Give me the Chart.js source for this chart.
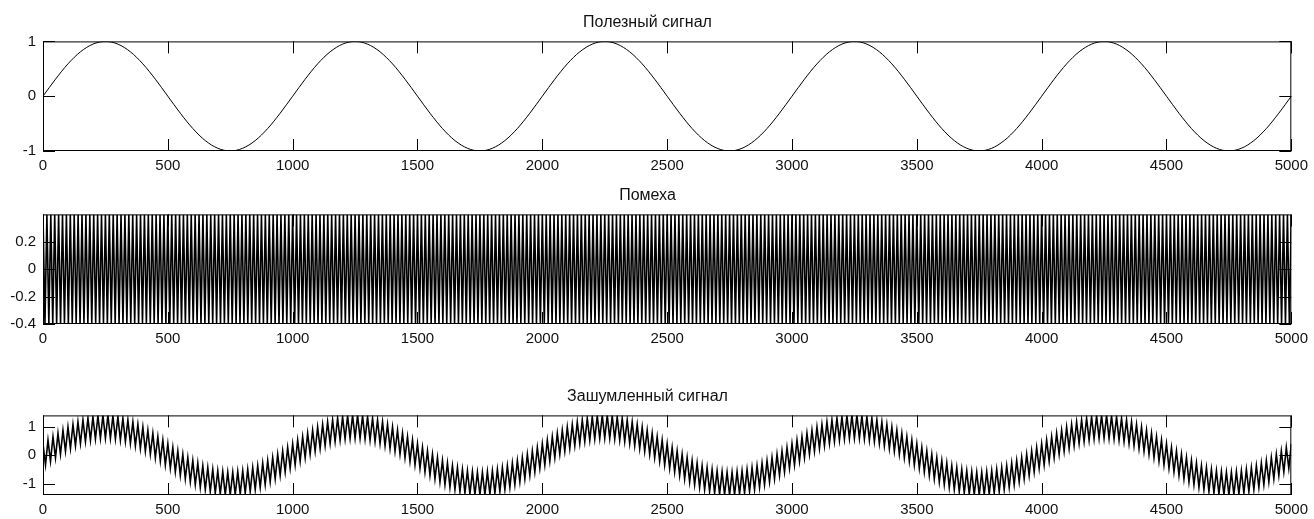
<!DOCTYPE html>
<html>
<head>
<meta charset="utf-8">
<script src="https://cdn.jsdelivr.net/npm/chart.js@4.4.1/dist/chart.umd.min.js"></script>
<style>
  body { margin: 0; background: #fff; width: 1314px; height: 519px; overflow: hidden; position: relative; }
  canvas { position: absolute; left: 0; }
</style>
</head>
<body>
<canvas id="c1" width="1314" height="175" style="top:0px"></canvas>
<canvas id="c2" width="1314" height="175" style="top:173px"></canvas>
<canvas id="c3" width="1314" height="145" style="top:374px"></canvas>
<script>
// Три графика: полезный сигнал, помеха, зашумленный сигнал

const titles = ["Полезный сигнал", "Помеха", "Зашумленный сигнал"];
const xTicks = [0, 500, 1000, 1500, 2000, 2500, 3000, 3500, 4000, 4500, 5000];
const yTicksSignal = [-1, 0, 1];
const yTicksNoise = [-0.4, -0.2, 0, 0.2];
const yTicksNoisy = [-1, 0, 1];

// полезный сигнал, шаг 50 отсчётов
const signalStep = 50;
const signal = [
  0, 0.31, 0.59, 0.81, 0.95, 1, 0.95, 0.81, 0.59, 0.31, 0, -0.31, -0.59, -0.81, -0.95, -1, -0.95, -0.81, -0.59, -0.31,
  0, 0.31, 0.59, 0.81, 0.95, 1, 0.95, 0.81, 0.59, 0.31, 0, -0.31, -0.59, -0.81, -0.95, -1, -0.95, -0.81, -0.59, -0.31,
  0, 0.31, 0.59, 0.81, 0.95, 1, 0.95, 0.81, 0.59, 0.31, 0, -0.31, -0.59, -0.81, -0.95, -1, -0.95, -0.81, -0.59, -0.31,
  0, 0.31, 0.59, 0.81, 0.95, 1, 0.95, 0.81, 0.59, 0.31, 0, -0.31, -0.59, -0.81, -0.95, -1, -0.95, -0.81, -0.59, -0.31,
  0, 0.31, 0.59, 0.81, 0.95, 1, 0.95, 0.81, 0.59, 0.31, 0, -0.31, -0.59, -0.81, -0.95, -1, -0.95, -0.81, -0.59, -0.31,
  0
];

// помеха, пики через 7.8125 отсчёта
const noiseStep = 7.8125;
const noise = [
  0.4, -0.4, 0.4, -0.4, 0.4, -0.4, 0.4, -0.4, 0.4, -0.4, 0.4, -0.4, 0.4, -0.4, 0.4, -0.4, 0.4, -0.4, 0.4, -0.4,
  0.4, -0.4, 0.4, -0.4, 0.4, -0.4, 0.4, -0.4, 0.4, -0.4, 0.4, -0.4, 0.4, -0.4, 0.4, -0.4, 0.4, -0.4, 0.4, -0.4,
  0.4, -0.4, 0.4, -0.4, 0.4, -0.4, 0.4, -0.4, 0.4, -0.4, 0.4, -0.4, 0.4, -0.4, 0.4, -0.4, 0.4, -0.4, 0.4, -0.4,
  0.4, -0.4, 0.4, -0.4, 0.4, -0.4, 0.4, -0.4, 0.4, -0.4, 0.4, -0.4, 0.4, -0.4, 0.4, -0.4, 0.4, -0.4, 0.4, -0.4,
  0.4, -0.4, 0.4, -0.4, 0.4, -0.4, 0.4, -0.4, 0.4, -0.4, 0.4, -0.4, 0.4, -0.4, 0.4, -0.4, 0.4, -0.4, 0.4, -0.4,
  0.4, -0.4, 0.4, -0.4, 0.4, -0.4, 0.4, -0.4, 0.4, -0.4, 0.4, -0.4, 0.4, -0.4, 0.4, -0.4, 0.4, -0.4, 0.4, -0.4,
  0.4, -0.4, 0.4, -0.4, 0.4, -0.4, 0.4, -0.4, 0.4, -0.4, 0.4, -0.4, 0.4, -0.4, 0.4, -0.4, 0.4, -0.4, 0.4, -0.4,
  0.4, -0.4, 0.4, -0.4, 0.4, -0.4, 0.4, -0.4, 0.4, -0.4, 0.4, -0.4, 0.4, -0.4, 0.4, -0.4, 0.4, -0.4, 0.4, -0.4,
  0.4, -0.4, 0.4, -0.4, 0.4, -0.4, 0.4, -0.4, 0.4, -0.4, 0.4, -0.4, 0.4, -0.4, 0.4, -0.4, 0.4, -0.4, 0.4, -0.4,
  0.4, -0.4, 0.4, -0.4, 0.4, -0.4, 0.4, -0.4, 0.4, -0.4, 0.4, -0.4, 0.4, -0.4, 0.4, -0.4, 0.4, -0.4, 0.4, -0.4,
  0.4, -0.4, 0.4, -0.4, 0.4, -0.4, 0.4, -0.4, 0.4, -0.4, 0.4, -0.4, 0.4, -0.4, 0.4, -0.4, 0.4, -0.4, 0.4, -0.4,
  0.4, -0.4, 0.4, -0.4, 0.4, -0.4, 0.4, -0.4, 0.4, -0.4, 0.4, -0.4, 0.4, -0.4, 0.4, -0.4, 0.4, -0.4, 0.4, -0.4,
  0.4, -0.4, 0.4, -0.4, 0.4, -0.4, 0.4, -0.4, 0.4, -0.4, 0.4, -0.4, 0.4, -0.4, 0.4, -0.4, 0.4, -0.4, 0.4, -0.4,
  0.4, -0.4, 0.4, -0.4, 0.4, -0.4, 0.4, -0.4, 0.4, -0.4, 0.4, -0.4, 0.4, -0.4, 0.4, -0.4, 0.4, -0.4, 0.4, -0.4,
  0.4, -0.4, 0.4, -0.4, 0.4, -0.4, 0.4, -0.4, 0.4, -0.4, 0.4, -0.4, 0.4, -0.4, 0.4, -0.4, 0.4, -0.4, 0.4, -0.4,
  0.4, -0.4, 0.4, -0.4, 0.4, -0.4, 0.4, -0.4, 0.4, -0.4, 0.4, -0.4, 0.4, -0.4, 0.4, -0.4, 0.4, -0.4, 0.4, -0.4,
  0.4, -0.4, 0.4, -0.4, 0.4, -0.4, 0.4, -0.4, 0.4, -0.4, 0.4, -0.4, 0.4, -0.4, 0.4, -0.4, 0.4, -0.4, 0.4, -0.4,
  0.4, -0.4, 0.4, -0.4, 0.4, -0.4, 0.4, -0.4, 0.4, -0.4, 0.4, -0.4, 0.4, -0.4, 0.4, -0.4, 0.4, -0.4, 0.4, -0.4,
  0.4, -0.4, 0.4, -0.4, 0.4, -0.4, 0.4, -0.4, 0.4, -0.4, 0.4, -0.4, 0.4, -0.4, 0.4, -0.4, 0.4, -0.4, 0.4, -0.4,
  0.4, -0.4, 0.4, -0.4, 0.4, -0.4, 0.4, -0.4, 0.4, -0.4, 0.4, -0.4, 0.4, -0.4, 0.4, -0.4, 0.4, -0.4, 0.4, -0.4,
  0.4, -0.4, 0.4, -0.4, 0.4, -0.4, 0.4, -0.4, 0.4, -0.4, 0.4, -0.4, 0.4, -0.4, 0.4, -0.4, 0.4, -0.4, 0.4, -0.4,
  0.4, -0.4, 0.4, -0.4, 0.4, -0.4, 0.4, -0.4, 0.4, -0.4, 0.4, -0.4, 0.4, -0.4, 0.4, -0.4, 0.4, -0.4, 0.4, -0.4,
  0.4, -0.4, 0.4, -0.4, 0.4, -0.4, 0.4, -0.4, 0.4, -0.4, 0.4, -0.4, 0.4, -0.4, 0.4, -0.4, 0.4, -0.4, 0.4, -0.4,
  0.4, -0.4, 0.4, -0.4, 0.4, -0.4, 0.4, -0.4, 0.4, -0.4, 0.4, -0.4, 0.4, -0.4, 0.4, -0.4, 0.4, -0.4, 0.4, -0.4,
  0.4, -0.4, 0.4, -0.4, 0.4, -0.4, 0.4, -0.4, 0.4, -0.4, 0.4, -0.4, 0.4, -0.4, 0.4, -0.4, 0.4, -0.4, 0.4, -0.4,
  0.4, -0.4, 0.4, -0.4, 0.4, -0.4, 0.4, -0.4, 0.4, -0.4, 0.4, -0.4, 0.4, -0.4, 0.4, -0.4, 0.4, -0.4, 0.4, -0.4,
  0.4, -0.4, 0.4, -0.4, 0.4, -0.4, 0.4, -0.4, 0.4, -0.4, 0.4, -0.4, 0.4, -0.4, 0.4, -0.4, 0.4, -0.4, 0.4, -0.4,
  0.4, -0.4, 0.4, -0.4, 0.4, -0.4, 0.4, -0.4, 0.4, -0.4, 0.4, -0.4, 0.4, -0.4, 0.4, -0.4, 0.4, -0.4, 0.4, -0.4,
  0.4, -0.4, 0.4, -0.4, 0.4, -0.4, 0.4, -0.4, 0.4, -0.4, 0.4, -0.4, 0.4, -0.4, 0.4, -0.4, 0.4, -0.4, 0.4, -0.4,
  0.4, -0.4, 0.4, -0.4, 0.4, -0.4, 0.4, -0.4, 0.4, -0.4, 0.4, -0.4, 0.4, -0.4, 0.4, -0.4, 0.4, -0.4, 0.4, -0.4,
  0.4, -0.4, 0.4, -0.4, 0.4, -0.4, 0.4, -0.4, 0.4, -0.4, 0.4, -0.4, 0.4, -0.4, 0.4, -0.4, 0.4, -0.4, 0.4, -0.4,
  0.4, -0.4, 0.4, -0.4, 0.4, -0.4, 0.4, -0.4, 0.4, -0.4, 0.4, -0.4, 0.4, -0.4, 0.4, -0.4, 0.4, -0.4, 0.4, -0.4,
  0.4
];

// зашумленный сигнал, отсчёты через 10
const noisyStep = 10;
const noisy = [
  0.4, -0.34, 0.53, -0.21, 0.65, -0.09, 0.77, 0.03, 0.88, 0.14, 0.99, 0.24, 1.08, 0.33, 1.17, 0.41, 1.24, 0.48, 1.3, 0.53, 1.35, 0.57, 1.38, 0.59, 1.4,
  0.6, 1.4, 0.59, 1.38, 0.57, 1.35, 0.53, 1.3, 0.48, 1.24, 0.41, 1.17, 0.33, 1.08, 0.24, 0.99, 0.14, 0.88, 0.03, 0.77, -0.09, 0.65, -0.21, 0.53, -0.34,
  0.4, -0.46, 0.27, -0.59, 0.15, -0.71, 0.03, -0.83, -0.08, -0.94, -0.19, -1.04, -0.28, -1.13, -0.37, -1.21, -0.44, -1.28, -0.5, -1.33, -0.55, -1.37, -0.58, -1.39, -0.6,
  -1.4, -0.6, -1.39, -0.58, -1.37, -0.55, -1.33, -0.5, -1.28, -0.44, -1.21, -0.37, -1.13, -0.28, -1.04, -0.19, -0.94, -0.08, -0.83, 0.03, -0.71, 0.15, -0.59, 0.27, -0.46,
  0.4, -0.34, 0.53, -0.21, 0.65, -0.09, 0.77, 0.03, 0.88, 0.14, 0.99, 0.24, 1.08, 0.33, 1.17, 0.41, 1.24, 0.48, 1.3, 0.53, 1.35, 0.57, 1.38, 0.59, 1.4,
  0.6, 1.4, 0.59, 1.38, 0.57, 1.35, 0.53, 1.3, 0.48, 1.24, 0.41, 1.17, 0.33, 1.08, 0.24, 0.99, 0.14, 0.88, 0.03, 0.77, -0.09, 0.65, -0.21, 0.53, -0.34,
  0.4, -0.46, 0.27, -0.59, 0.15, -0.71, 0.03, -0.83, -0.08, -0.94, -0.19, -1.04, -0.28, -1.13, -0.37, -1.21, -0.44, -1.28, -0.5, -1.33, -0.55, -1.37, -0.58, -1.39, -0.6,
  -1.4, -0.6, -1.39, -0.58, -1.37, -0.55, -1.33, -0.5, -1.28, -0.44, -1.21, -0.37, -1.13, -0.28, -1.04, -0.19, -0.94, -0.08, -0.83, 0.03, -0.71, 0.15, -0.59, 0.27, -0.46,
  0.4, -0.34, 0.53, -0.21, 0.65, -0.09, 0.77, 0.03, 0.88, 0.14, 0.99, 0.24, 1.08, 0.33, 1.17, 0.41, 1.24, 0.48, 1.3, 0.53, 1.35, 0.57, 1.38, 0.59, 1.4,
  0.6, 1.4, 0.59, 1.38, 0.57, 1.35, 0.53, 1.3, 0.48, 1.24, 0.41, 1.17, 0.33, 1.08, 0.24, 0.99, 0.14, 0.88, 0.03, 0.77, -0.09, 0.65, -0.21, 0.53, -0.34,
  0.4, -0.46, 0.27, -0.59, 0.15, -0.71, 0.03, -0.83, -0.08, -0.94, -0.19, -1.04, -0.28, -1.13, -0.37, -1.21, -0.44, -1.28, -0.5, -1.33, -0.55, -1.37, -0.58, -1.39, -0.6,
  -1.4, -0.6, -1.39, -0.58, -1.37, -0.55, -1.33, -0.5, -1.28, -0.44, -1.21, -0.37, -1.13, -0.28, -1.04, -0.19, -0.94, -0.08, -0.83, 0.03, -0.71, 0.15, -0.59, 0.27, -0.46,
  0.4, -0.34, 0.53, -0.21, 0.65, -0.09, 0.77, 0.03, 0.88, 0.14, 0.99, 0.24, 1.08, 0.33, 1.17, 0.41, 1.24, 0.48, 1.3, 0.53, 1.35, 0.57, 1.38, 0.59, 1.4,
  0.6, 1.4, 0.59, 1.38, 0.57, 1.35, 0.53, 1.3, 0.48, 1.24, 0.41, 1.17, 0.33, 1.08, 0.24, 0.99, 0.14, 0.88, 0.03, 0.77, -0.09, 0.65, -0.21, 0.53, -0.34,
  0.4, -0.46, 0.27, -0.59, 0.15, -0.71, 0.03, -0.83, -0.08, -0.94, -0.19, -1.04, -0.28, -1.13, -0.37, -1.21, -0.44, -1.28, -0.5, -1.33, -0.55, -1.37, -0.58, -1.39, -0.6,
  -1.4, -0.6, -1.39, -0.58, -1.37, -0.55, -1.33, -0.5, -1.28, -0.44, -1.21, -0.37, -1.13, -0.28, -1.04, -0.19, -0.94, -0.08, -0.83, 0.03, -0.71, 0.15, -0.59, 0.27, -0.46,
  0.4, -0.34, 0.53, -0.21, 0.65, -0.09, 0.77, 0.03, 0.88, 0.14, 0.99, 0.24, 1.08, 0.33, 1.17, 0.41, 1.24, 0.48, 1.3, 0.53, 1.35, 0.57, 1.38, 0.59, 1.4,
  0.6, 1.4, 0.59, 1.38, 0.57, 1.35, 0.53, 1.3, 0.48, 1.24, 0.41, 1.17, 0.33, 1.08, 0.24, 0.99, 0.14, 0.88, 0.03, 0.77, -0.09, 0.65, -0.21, 0.53, -0.34,
  0.4, -0.46, 0.27, -0.59, 0.15, -0.71, 0.03, -0.83, -0.08, -0.94, -0.19, -1.04, -0.28, -1.13, -0.37, -1.21, -0.44, -1.28, -0.5, -1.33, -0.55, -1.37, -0.58, -1.39, -0.6,
  -1.4, -0.6, -1.39, -0.58, -1.37, -0.55, -1.33, -0.5, -1.28, -0.44, -1.21, -0.37, -1.13, -0.28, -1.04, -0.19, -0.94, -0.08, -0.83, 0.03, -0.71, 0.15, -0.59, 0.27, -0.46,
  0.4
];

const FONT = "'Liberation Sans', Arial, sans-serif";
const TEXT_COLOR = "#111";
const TICK_LEN = 12;

// рамка и внутренние засечки как в MATLAB
const framePlugin = {
  id: "frame",
  afterDatasetsDraw(chart) {
    const ctx = chart.ctx;
    const a = chart.chartArea;
    const x = chart.scales.x;
    const y = chart.scales.y;
    ctx.save();
    ctx.strokeStyle = "#000";
    ctx.lineWidth = 1;
    ctx.strokeRect(a.left + 0.5, a.top + 0.5, a.right - a.left - 1, a.bottom - a.top - 1);
    ctx.beginPath();
    x.ticks.forEach((t) => {
      const px = Math.round(x.getPixelForValue(t.value)) + 0.5;
      ctx.moveTo(px, a.bottom);
      ctx.lineTo(px, a.bottom - TICK_LEN);
      ctx.moveTo(px, a.top);
      ctx.lineTo(px, a.top + TICK_LEN);
    });
    y.ticks.forEach((t) => {
      const py = Math.round(y.getPixelForValue(t.value)) + 0.5;
      ctx.moveTo(a.left, py);
      ctx.lineTo(a.left + TICK_LEN, py);
      ctx.moveTo(a.right, py);
      ctx.lineTo(a.right - TICK_LEN, py);
    });
    ctx.stroke();
    ctx.restore();
  },
};

function toPoints(values, step) {
  return values.map((v, i) => ({ x: i * step, y: v }));
}

function makePanel(id, title, values, step, yMin, yMax, yTicks, lineWidth, smooth) {
  return new Chart(document.getElementById(id), {
    type: "line",
    data: {
      datasets: [
        {
          data: toPoints(values, step),
          borderColor: "#000",
          borderWidth: lineWidth,
          pointRadius: 0,
          fill: false,
          cubicInterpolationMode: smooth ? "monotone" : "default",
          tension: 0,
        },
      ],
    },
    options: {
      responsive: false,
      animation: false,
      layout: { padding: { left: 0, right: 19, top: 0, bottom: 0 } },
      plugins: {
        legend: { display: false },
        tooltip: { enabled: false },
        title: {
          display: true,
          text: title,
          color: TEXT_COLOR,
          font: { family: FONT, size: 16, weight: "normal" },
          padding: { top: 12.6, bottom: 9.6 },
        },
      },
      scales: {
        x: {
          type: "linear",
          min: 0,
          max: 5000,
          grid: { display: false, drawTicks: false },
          border: { display: false },
          afterBuildTicks: (s) => { s.ticks = xTicks.map((v) => ({ value: v })); },
          afterFit: (s) => { s.height = 24; },
          ticks: {
            color: TEXT_COLOR,
            font: { family: FONT, size: 15 },
            padding: 6,
            maxRotation: 0,
            autoSkip: false,
            callback: (v) => String(v),
          },
        },
        y: {
          min: yMin,
          max: yMax,
          grid: { display: false, drawTicks: false },
          border: { display: false },
          afterBuildTicks: (s) => { s.ticks = yTicks.map((v) => ({ value: v })); },
          afterFit: (s) => { s.width = 43; },
          ticks: {
            color: TEXT_COLOR,
            font: { family: FONT, size: 15 },
            padding: 7,
            callback: (v) => String(v),
          },
        },
      },
    },
    plugins: [framePlugin],
  });
}

makePanel("c1", titles[0], signal, signalStep, -1, 1, yTicksSignal, 1, true);
makePanel("c2", titles[1], noise, noiseStep, -0.4, 0.4, yTicksNoise, 1.6, false);
makePanel("c3", titles[2], noisy, noisyStep, -1.4, 1.4, yTicksNoisy, 1.6, false);
</script>
</body>
</html>
